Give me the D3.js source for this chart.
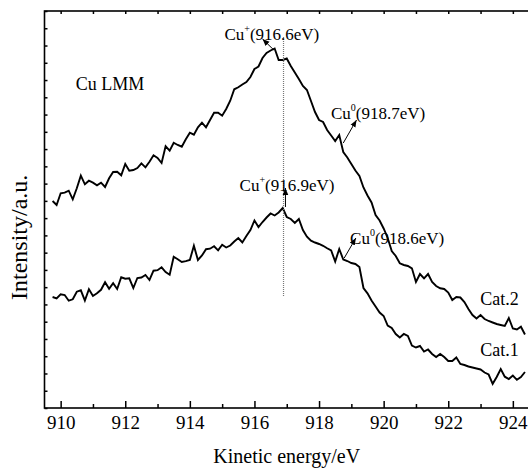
<!DOCTYPE html>
<html>
<head>
<meta charset="utf-8">
<script src="https://cdn.jsdelivr.net/npm/d3@7"></script>
<style>
  html, body { margin: 0; padding: 0; background: #fff; }
  svg { display: block; }
  svg text { font-family: "Liberation Serif", "Times New Roman", Tinos, "DejaVu Serif", serif; }
</style>
</head>
<body>
<svg id="chart" width="528" height="470"></svg>
<script>
// Kinetic energy grid (eV)
const energy = [
  909.75, 909.875,
  910, 910.125, 910.25, 910.375, 910.5, 910.625, 910.75, 910.875,
  911, 911.125, 911.25, 911.375, 911.5, 911.625, 911.75, 911.875,
  912, 912.125, 912.25, 912.375, 912.5, 912.625, 912.75, 912.875,
  913, 913.125, 913.25, 913.375, 913.5, 913.625, 913.75, 913.875,
  914, 914.125, 914.25, 914.375, 914.5, 914.625, 914.75, 914.875,
  915, 915.125, 915.25, 915.375, 915.5, 915.625, 915.75, 915.875,
  916, 916.125, 916.25, 916.375, 916.5, 916.625, 916.75, 916.875,
  917, 917.125, 917.25, 917.375, 917.5, 917.625, 917.75, 917.875,
  918, 918.125, 918.25, 918.375, 918.5, 918.625, 918.75, 918.875,
  919, 919.125, 919.25, 919.375, 919.5, 919.625, 919.75, 919.875,
  920, 920.125, 920.25, 920.375, 920.5, 920.625, 920.75, 920.875,
  921, 921.125, 921.25, 921.375, 921.5, 921.625, 921.75, 921.875,
  922, 922.125, 922.25, 922.375, 922.5, 922.625, 922.75, 922.875,
  923, 923.125, 923.25, 923.375, 923.5, 923.625, 923.75, 923.875,
  924, 924.125, 924.25, 924.375
];

// Intensity (a.u.) — Cat.2 (upper curve)
const cat2 = [
  207, 203,
  214.7, 215.3, 217.3, 208.7, 219.7, 232.3, 223.7, 227.3,
  225.3, 222.7, 225.3, 221, 229.7, 236, 236.3, 232.7,
  244, 237.3, 238, 240, 244.7, 240.7, 246.3, 252.7,
  250, 245, 261.7, 257.3, 265.3, 263, 261.3, 268.7,
  275.3, 273.3, 280.7, 285.3, 280.7, 288, 295.3, 295.3,
  292.3, 299, 307.3, 318.7, 320.7, 323.5, 326, 331,
  339, 341.5, 350, 355, 357.5, 359.5, 348, 348,
  349.5, 342, 335.5, 329, 322, 318, 307, 296,
  288, 286, 278, 272.5, 267, 273, 256, 250.5,
  244, 237.5, 232, 220.5, 212.5, 205.5, 193, 187.5,
  179.5, 170, 157, 152, 144.7, 143, 142, 139.7,
  126, 134, 129.7, 134, 126, 122, 119.7, 119,
  115.5, 108, 111, 110.5, 106, 99, 93, 89.5,
  93, 89, 87, 85.5, 84, 83, 82, 90,
  79.5, 78.5, 81.3, 73.5
];

// Intensity (a.u.) — Cat.1 (lower curve)
const cat1 = [
  111, 109.7,
  113.7, 113, 107.3, 108.7, 116.3, 117.7, 107.5, 118.7,
  112, 114.7, 118.2, 125.8, 119.2, 124.8, 119, 130.7,
  129.3, 129.7, 120, 130, 130.5, 133, 128, 137.3,
  137.8, 140.7, 136, 133.3, 151.3, 148.8, 146, 146.8,
  148, 162.3, 148, 152.5, 158.8, 159.3, 161.7, 157.7,
  163.3, 160.5, 162.5, 166.5, 170, 165.5, 172, 178,
  187.5, 181, 186, 190.5, 194.5, 192.5, 195.5, 200,
  191, 189, 185, 189, 178, 171.3, 167.3, 165.5,
  164, 162.2, 159.7, 157.5, 146.5, 159, 148.5, 147,
  145, 144, 141, 120, 114.7, 107.5, 101.5, 95.5,
  92, 82.5, 80, 74, 70.5, 74, 72, 62.5,
  60.5, 62, 56.5, 58.5, 54, 51, 54, 51,
  47, 47, 50.5, 44, 43, 41.5, 40.5, 39.5,
  38.5, 35.5, 33.5, 24.2, 31, 39, 31.3, 29,
  32.5, 28.2, 31, 36
];

// Axis settings
const xDomain = [909.5, 924.5];
const yDomain = [0, 397];
const xMajorTicks = [910, 912, 914, 916, 918, 920, 922, 924];
const xMinorTicks = [911, 913, 915, 917, 919, 921, 923];
const xTopTicks = [910, 911, 912, 913, 914, 915, 916, 917, 918, 919, 920, 921, 922, 923, 924];
const yTickCount = 23;
const xTitle = "Kinetic energy/eV";
const yTitle = "Intensity/a.u.";

// Annotations: label text pieces [main, superscript, rest], anchor in data coords
const labels = [
  { pre: "Cu LMM", sup: "", post: "", e: 910.47, i: 318, size: 18 },
  { pre: "Cu", sup: "+", post: "(916.6eV)", e: 915.07, i: 368, size: 17 },
  { pre: "Cu", sup: "+", post: "(916.9eV)", e: 915.54, i: 217, size: 17 },
  { pre: "Cu", sup: "0", post: "(918.7eV)", e: 918.37, i: 289, size: 17 },
  { pre: "Cu", sup: "0", post: "(918.6eV)", e: 918.96, i: 164, size: 17 },
  { pre: "Cat.2", sup: "", post: "", e: 922.99, i: 103, size: 18 },
  { pre: "Cat.1", sup: "", post: "", e: 922.99, i: 52, size: 18 }
];
// Arrows: from (e1,i1) to (e2,i2)
const arrows = [
  { e1: 916.6, i1: 358, e2: 916.25, i2: 369 },
  { e1: 916.96, i1: 201, e2: 916.96, i2: 220 },
  { e1: 918.75, i1: 265, e2: 919.16, i2: 288 },
  { e1: 918.78, i1: 150, e2: 919.14, i2: 170 }
];
const refLine = { e: 916.9, i1: 112, i2: 371 };

const FONT = '"Liberation Serif", "Times New Roman", Tinos, "DejaVu Serif", serif';
const svg = d3.select("#chart");
const mLeft = 44.5, mRight = 529, mTop = 11, mBottom = 408;

const x = d3.scaleLinear().domain(xDomain).range([mLeft, mRight]);
const y = d3.scaleLinear().domain(yDomain).range([mBottom, mTop]);

// Curves
const line = d3.line().x((d, k) => x(energy[k])).y(d => y(d));
[cat2, cat1].forEach(series => {
  svg.append("path")
    .datum(series)
    .attr("d", line)
    .attr("fill", "none")
    .attr("stroke", "#000")
    .attr("stroke-width", 1.9)
    .attr("stroke-linejoin", "miter");
});

// Reference dotted line
svg.append("line")
  .attr("x1", x(refLine.e)).attr("x2", x(refLine.e))
  .attr("y1", y(refLine.i1)).attr("y2", y(refLine.i2))
  .attr("stroke", "#777").attr("stroke-width", 1.2)
  .attr("stroke-dasharray", "1,1");

// Arrow marker
svg.append("defs").append("marker")
  .attr("id", "arrowhead")
  .attr("viewBox", "0 0 10 10")
  .attr("refX", 10).attr("refY", 5)
  .attr("markerWidth", 7).attr("markerHeight", 7)
  .attr("markerUnits", "userSpaceOnUse")
  .attr("orient", "auto")
  .append("path").attr("d", "M0,1 L10,5 L0,9 Z").attr("fill", "#000");

arrows.forEach(a => {
  svg.append("line")
    .attr("x1", x(a.e1)).attr("y1", y(a.i1))
    .attr("x2", x(a.e2)).attr("y2", y(a.i2))
    .attr("stroke", "#000").attr("stroke-width", 1)
    .attr("marker-end", "url(#arrowhead)");
});

// Frame
svg.append("rect")
  .attr("x", mLeft).attr("y", mTop)
  .attr("width", mRight - mLeft).attr("height", mBottom - mTop)
  .attr("fill", "none").attr("stroke", "#000").attr("stroke-width", 1.6);

// Bottom axis (major with labels, inward ticks)
const gB = svg.append("g").attr("transform", `translate(0,${mBottom})`)
  .call(d3.axisBottom(x).tickValues(xMajorTicks).tickSize(-7).tickPadding(12).tickFormat(d3.format("d")));
gB.attr("font-family", FONT);
gB.select(".domain").remove();
gB.selectAll(".tick line").attr("stroke", "#000").attr("stroke-width", 1.5);
gB.selectAll(".tick text").attr("font-family", FONT).attr("font-size", 19).attr("fill", "#000")
  .attr("dy", "0.71em").attr("y", 8);

const gBm = svg.append("g").attr("transform", `translate(0,${mBottom})`)
  .call(d3.axisBottom(x).tickValues(xMinorTicks).tickSize(-4).tickFormat(""));
gBm.select(".domain").remove();
gBm.selectAll(".tick line").attr("stroke", "#000").attr("stroke-width", 1.5);

// Top axis
const gT = svg.append("g").attr("transform", `translate(0,${mTop})`)
  .call(d3.axisTop(x).tickValues(xTopTicks).tickSize(-3).tickFormat(""));
gT.select(".domain").remove();
gT.selectAll(".tick line").attr("stroke", "#000").attr("stroke-width", 1.5);

// Left axis (unlabelled)
const yTicks = d3.range(yTickCount + 1).map(k => yDomain[0] + k * (yDomain[1] - yDomain[0]) / yTickCount);
const gL = svg.append("g").attr("transform", `translate(${mLeft},0)`)
  .call(d3.axisLeft(y).tickValues(yTicks).tickSize(-3).tickFormat(""));
gL.select(".domain").remove();
gL.selectAll(".tick line").attr("stroke", "#000").attr("stroke-width", 1.5);

// Axis titles
svg.append("text")
  .attr("x", (mLeft + mRight) / 2).attr("y", 463)
  .attr("text-anchor", "middle").attr("font-family", FONT).attr("font-size", 20).attr("fill", "#000")
  .text(xTitle);
svg.append("text")
  .attr("transform", `translate(27,300) rotate(-90)`)
  .attr("text-anchor", "start").attr("font-family", FONT).attr("font-size", 24).attr("fill", "#000")
  .text(yTitle);

// Labels
labels.forEach(l => {
  const t = svg.append("text")
    .attr("x", x(l.e)).attr("y", y(l.i))
    .attr("font-family", FONT)
    .attr("font-size", l.size).attr("fill", "#000");
  t.append("tspan").text(l.pre);
  if (l.sup) {
    t.append("tspan").attr("font-size", 10).attr("dy", -8).text(l.sup);
    t.append("tspan").attr("dy", 8).text(l.post);
  } else if (l.post) {
    t.append("tspan").text(l.post);
  }
});
</script>
</body>
</html>
